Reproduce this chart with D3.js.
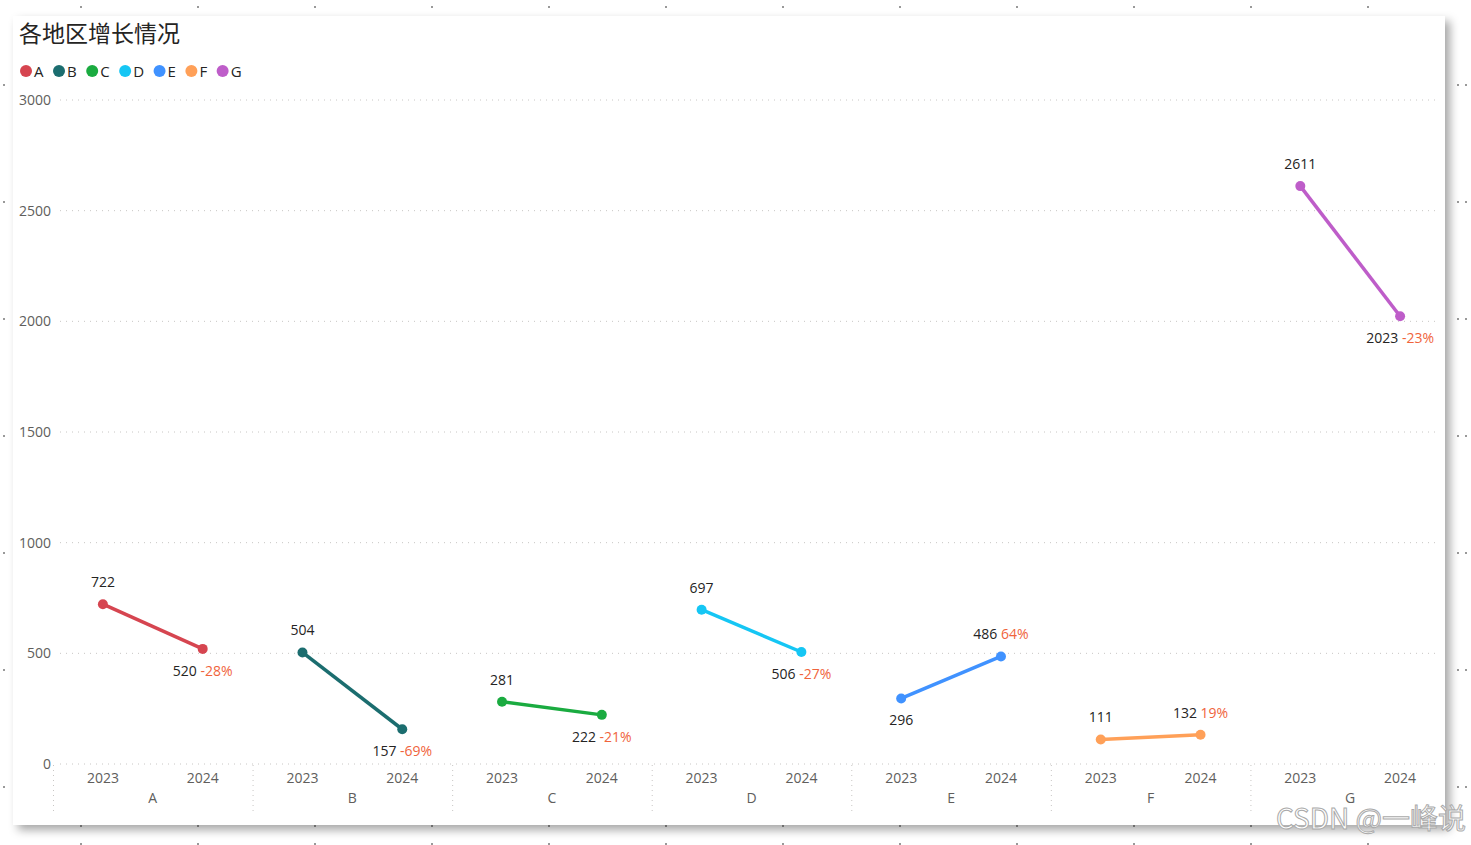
<!DOCTYPE html>
<html><head><meta charset="utf-8">
<script src="https://cdn.jsdelivr.net/npm/d3@7"></script>
<style>
html,body{margin:0;padding:0;background:#fff;}
svg{display:block;font-family:"Segoe UI","Open Sans","Noto Sans CJK SC",sans-serif;}
</style></head><body>
<svg id="chart" width="1471" height="845"></svg>
<script>
const title = "各地区增长情况";
const regions = ["A","B","C","D","E","F","G"];
const years = ["2023","2024"];
const values2023 = [722,504,281,697,296,111,2611];
const values2024 = [520,157,222,506,486,132,2023];
const colors = ["#D64550","#1B6D6F","#1AAB40","#15C6F4","#4092FF","#FFA058","#BE5DC9"];
const yTicks = [0,500,1000,1500,2000,2500,3000];

const svg = d3.select("#chart");

// background dots
const bg = svg.append("g");
const dotXs = d3.range(12).map(i => 81 + i*117);
[7, 826, 844].forEach(y => dotXs.forEach(x => bg.append("circle").attr("cx",x).attr("cy",y).attr("r",1).attr("fill","#777")));
const dotYs = d3.range(7).map(i => 85 + i*117);
[4, 1458, 1466].forEach(x => dotYs.forEach(y => bg.append("circle").attr("cx",x).attr("cy",y).attr("r",1).attr("fill","#777")));

// card with shadow
const defs = svg.append("defs");
const f = defs.append("filter").attr("id","sh").attr("x","-5%").attr("y","-5%").attr("width","110%").attr("height","115%");
f.append("feDropShadow").attr("dx",5).attr("dy",5).attr("stdDeviation",5).attr("flood-color","#000").attr("flood-opacity",0.35);
svg.append("rect").attr("x",13).attr("y",16).attr("width",1432).attr("height",809).attr("fill","#fff").attr("filter","url(#sh)");

// title
svg.append("text").attr("x",19).attr("y",42).attr("font-size",23).attr("fill","#252423")
  .attr("font-family","'Noto Sans CJK SC',sans-serif").text(title);

// legend
let lx = 26;
const lg = svg.append("g");
regions.forEach((r,i) => {
  lg.append("circle").attr("cx",lx).attr("cy",71).attr("r",6).attr("fill",colors[i]);
  const t = lg.append("text").attr("x",lx+8).attr("y",76.5).attr("font-size",15).attr("fill","#252423").text(r);
  const w = t.node().getComputedTextLength();
  lx += 8 + w + 15.5;
});

// scales
const y = d3.scaleLinear().domain([0,3000]).range([764,100]);
const x0 = d3.scaleBand().domain(regions).range([53,1450]).padding(0);
const x1 = d3.scaleBand().domain(years).range([0,x0.bandwidth()]).padding(0);

// y grid + labels
const yAxis = d3.axisLeft(y).tickValues(yTicks).tickSize(0).tickFormat(d3.format("d"));
const yg = svg.append("g").attr("transform","translate(51,0)").call(yAxis);
yg.select(".domain").remove();
yg.selectAll("text").attr("font-size",14).attr("fill","#605E5C").attr("font-family","'Segoe UI','Open Sans',sans-serif").attr("x",0).attr("dy","0.32em");
svg.append("g").selectAll("line").data(yTicks).join("line")
  .attr("x1",60).attr("x2",1437).attr("y1",d=>y(d)).attr("y2",d=>y(d))
  .attr("stroke","#C8C6C4").attr("stroke-width",1).attr("stroke-dasharray","1,5");

// x axis: years and regions
const xg = svg.append("g");
regions.forEach(r => {
  const gx = x0(r);
  xg.append("line").attr("x1",gx+0.5).attr("x2",gx+0.5).attr("y1",765).attr("y2",812)
    .attr("stroke","#C8C6C4").attr("stroke-dasharray","1,4");
  years.forEach(yr => {
    xg.append("text").attr("x",gx + x1(yr) + x1.bandwidth()/2).attr("y",783).attr("text-anchor","middle")
      .attr("font-size",14).attr("fill","#605E5C").text(yr);
  });
  xg.append("text").attr("x",gx + x0.bandwidth()/2).attr("y",803).attr("text-anchor","middle")
    .attr("font-size",14).attr("fill","#605E5C").text(r);
});

// lines and points
const plot = svg.append("g");
const line = d3.line().x(d=>d.x).y(d=>d.y);
regions.forEach((r,i) => {
  const pts = [
    {x: x0(r)+x1("2023")+x1.bandwidth()/2, y: y(values2023[i])},
    {x: x0(r)+x1("2024")+x1.bandwidth()/2, y: y(values2024[i])}
  ];
  plot.append("path").attr("d",line(pts)).attr("fill","none").attr("stroke",colors[i]).attr("stroke-width",3.5);
  pts.forEach(p => plot.append("circle").attr("cx",p.x).attr("cy",p.y).attr("r",5).attr("fill",colors[i]));

  const up = values2024[i] >= values2023[i];
  let above0 = !up;
  if (!above0 && pts[0].y + 27 > 755) above0 = true;
  plot.append("text").attr("x",pts[0].x).attr("y", above0 ? pts[0].y-17 : pts[0].y+27)
    .attr("text-anchor","middle").attr("font-size",14).attr("fill","#252423").text(values2023[i]);
  let above1 = up;
  if (!above1 && pts[1].y + 27 > 768) above1 = true;
  const pct = Math.round((values2024[i]-values2023[i])/values2023[i]*100);
  const t = plot.append("text").attr("x",pts[1].x).attr("y", above1 ? pts[1].y-17 : pts[1].y+27)
    .attr("text-anchor","middle").attr("font-size",14);
  t.append("tspan").attr("fill","#252423").text(values2024[i] + " ");
  t.append("tspan").attr("fill","#F0643C").text(pct + "%");
});

// watermark
svg.append("text").attr("x",1276).attr("y",829).attr("font-size",28).attr("fill","#fff")
  .attr("stroke","#aaa").attr("stroke-width",1).attr("textLength",190).attr("font-family","'Noto Sans CJK SC',sans-serif").text("CSDN @一峰说");
</script>
</body></html>
